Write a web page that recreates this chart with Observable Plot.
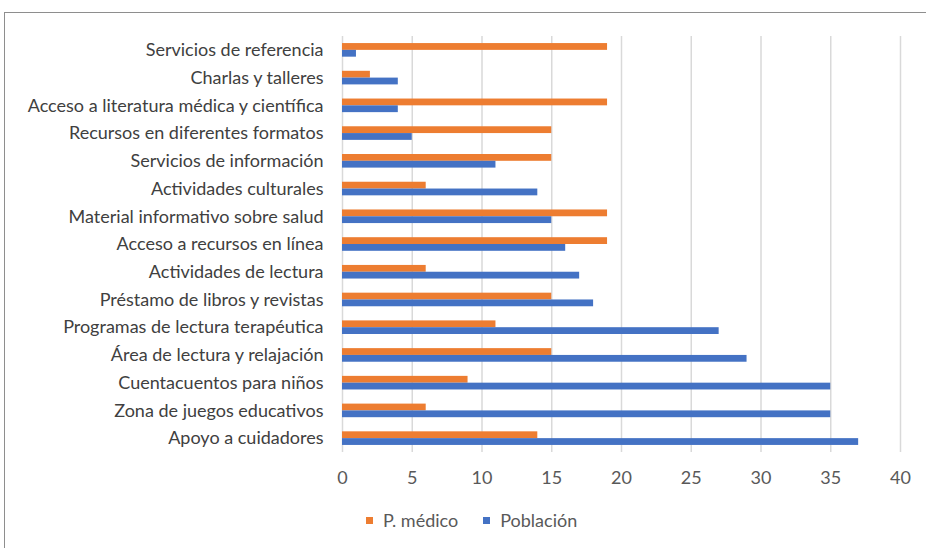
<!DOCTYPE html>
<html><head><meta charset="utf-8">
<script src="https://cdn.jsdelivr.net/npm/d3@7"></script>
<script src="https://cdn.jsdelivr.net/npm/@observablehq/plot@0.6"></script>
<style>
body{margin:0;width:926px;height:548px;overflow:hidden;background:#fff;font-family:Lato,sans-serif;position:relative}
#frame{position:absolute;left:4px;top:12px;width:1000px;height:1000px;border:1.5px solid #8e8e8e;box-sizing:border-box}
#chart{position:absolute;left:0;top:0}
#legend{position:absolute;top:509px;left:366px;font-size:18px;color:#595959;display:flex;align-items:center;white-space:nowrap}
#legend .item{display:flex;align-items:center;margin-right:25px}
#legend .sw{display:inline-block;width:7px;height:7px;margin-right:10px}
</style></head>
<body>
<div id="frame"></div>
<div id="chart"></div>
<div id="legend"></div>
<script>
const categories = [
  "Servicios de referencia",
  "Charlas y talleres",
  "Acceso a literatura médica y científica",
  "Recursos en diferentes formatos",
  "Servicios de información",
  "Actividades culturales",
  "Material informativo sobre salud",
  "Acceso a recursos en línea",
  "Actividades de lectura",
  "Préstamo de libros y revistas",
  "Programas de lectura terapéutica",
  "Área de lectura y relajación",
  "Cuentacuentos para niños",
  "Zona de juegos educativos",
  "Apoyo a cuidadores"
];
const medico    = [19, 2, 19, 15, 15, 6, 19, 19, 6, 15, 11, 15, 9, 6, 14];
const poblacion = [1, 4, 4, 5, 11, 14, 15, 16, 17, 18, 27, 29, 35, 35, 37];
const series = ["P. médico", "Población"];
const colors = ["#ED7D31", "#4472C4"];
const xTicks = [0, 5, 10, 15, 20, 25, 30, 35, 40];

const rowsM = categories.map((c, i) => ({cat: c, serie: series[0], v: medico[i]}));
const rowsP = categories.map((c, i) => ({cat: c, serie: series[1], v: poblacion[i]}));

const H = 500, mt = 36, mb = 48;
const bw = (H - mt - mb) / categories.length;
const barH = 6.8;

const chart = Plot.plot({
  width: 926, height: H,
  marginLeft: 342, marginRight: 26, marginTop: mt, marginBottom: mb,
  x: {domain: [0, 40]},
  y: {domain: categories, padding: 0, round: false},
  color: {domain: series, range: colors},
  style: {fontFamily: "Lato, sans-serif", fontSize: "18px", color: "#404040", background: "transparent"},
  marks: [
    Plot.gridX(xTicks, {stroke: "#d9d9d9", strokeOpacity: 1, strokeWidth: 1.5}),
    Plot.barX(rowsM, {x: "v", y: "cat", fill: "serie", insetTop: bw / 2 - barH, insetBottom: bw / 2}),
    Plot.barX(rowsP, {x: "v", y: "cat", fill: "serie", insetTop: bw / 2, insetBottom: bw / 2 - barH}),
    Plot.axisX(xTicks, {tickSize: 0, tickPadding: 19, fill: "#595959", label: null}),
    Plot.axisY({tickSize: 0, tickPadding: 19, fill: "#404040", label: null})
  ]
});
document.getElementById("chart").appendChild(chart);

const legend = document.getElementById("legend");
series.forEach((s, i) => {
  const it = document.createElement("span");
  it.className = "item";
  it.innerHTML = `<span class="sw" style="background:${colors[i]}"></span>${s}`;
  legend.appendChild(it);
});
</script>
</body></html>
